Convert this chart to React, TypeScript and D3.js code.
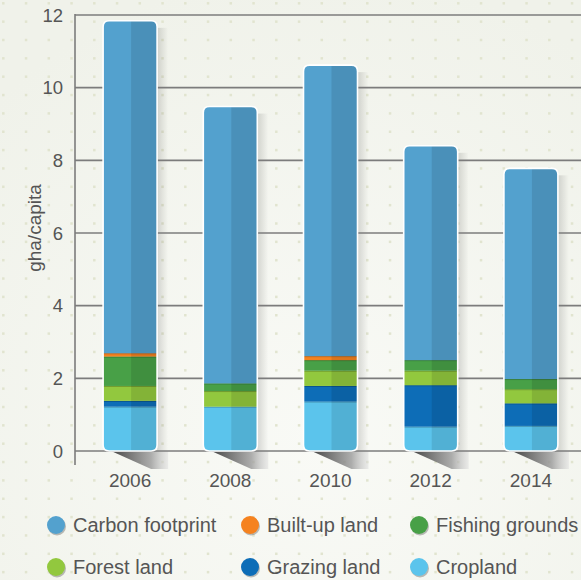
import React from 'react';
import * as d3 from 'd3';

const YEARS = ['2006', '2008', '2010', '2012', '2014'];
const CROPLAND = [1.22, 1.22, 1.36, 0.67, 0.69];
const GRAZING = [0.16, 0, 0.43, 1.14, 0.62];
const FOREST = [0.41, 0.43, 0.42, 0.4, 0.39];
const FISHING = [0.81, 0.21, 0.29, 0.29, 0.28];
const BUILT_UP = [0.09, 0, 0.11, 0, 0];
const CARBON = [9.15, 7.62, 8.01, 5.9, 5.8];
const Y_TICKS = [0, 2, 4, 6, 8, 10, 12];

const KEYS = ['cropland', 'grazing', 'forest', 'fishing', 'builtUp', 'carbon'];
const COLORS: Record<string, string> = {
  carbon: '#53a1ce',
  builtUp: '#f5821f',
  fishing: '#48a047',
  forest: '#92c83e',
  grazing: '#0d6db7',
  cropland: '#5bc4ec',
};
const LEGEND = [
  { key: 'carbon', label: 'Carbon footprint' },
  { key: 'builtUp', label: 'Built-up land' },
  { key: 'fishing', label: 'Fishing grounds' },
  { key: 'forest', label: 'Forest land' },
  { key: 'grazing', label: 'Grazing land' },
  { key: 'cropland', label: 'Cropland' },
];

const W = 581;
const H = 580;
const FONT = '"Liberation Sans", Arial, sans-serif';
const TEXT = '#555';

// rounded bar outline
function barPath(x0: number, x1: number, y0: number, y1: number, r: number) {
  return `M${x0},${y1 - r}V${y0 + r}Q${x0},${y0} ${x0 + r},${y0}H${x1 - r}Q${x1},${y0} ${x1},${y0 + r}V${y1 - r}Q${x1},${y1} ${x1 - r},${y1}H${x0 + r}Q${x0},${y1} ${x0},${y1 - r}Z`;
}

export default function App() {
  const rows = YEARS.map((year, i) => ({
    year,
    cropland: CROPLAND[i],
    grazing: GRAZING[i],
    forest: FOREST[i],
    fishing: FISHING[i],
    builtUp: BUILT_UP[i],
    carbon: CARBON[i],
  }));
  const series = d3.stack<any>().keys(KEYS)(rows);

  const y = d3.scaleLinear().domain([0, 12]).range([451, 15]);
  const x = d3.scalePoint<string>().domain(YEARS).range([80, 581]).padding(0.5);
  const barW = 54;
  const axisX = 75;

  const dots: [number, number][] = [];
  for (let dx = 3.3; dx < W; dx += 22.75) {
    for (let dy = 3.3; dy < H; dy += 18.35) dots.push([dx, dy]);
  }

  return (
    <svg width={W} height={H} style={{ position: 'absolute', left: 0, top: 0 }} fontFamily={FONT}>
      <defs>
        <radialGradient id="bg" cx="55%" cy="75%" r="80%">
          <stop offset="0%" stopColor="#f9faf6" />
          <stop offset="100%" stopColor="#f0f2ea" />
        </radialGradient>
        <linearGradient id="sideShadow" x1="0" x2="1" y1="0" y2="0">
          <stop offset="0%" stopColor="#000" stopOpacity={0.14} />
          <stop offset="100%" stopColor="#000" stopOpacity={0} />
        </linearGradient>
        <linearGradient id="baseShadow" x1="0" x2="1" y1="0" y2="0">
          <stop offset="0%" stopColor="#3a3a3a" stopOpacity={0.95} />
          <stop offset="70%" stopColor="#999" stopOpacity={0.8} />
          <stop offset="100%" stopColor="#ddd" stopOpacity={0.5} />
        </linearGradient>
        {YEARS.map((yr, i) => {
          const cx = x(yr)!;
          const top = y(d3.sum(series, s => s[i][1] - s[i][0]));
          return (
            <clipPath id={`clip-${i}`} key={yr}>
              <path d={barPath(cx - barW / 2, cx + barW / 2, top, y(0), 6)} />
            </clipPath>
          );
        })}
      </defs>

      <rect width={W} height={H} fill="url(#bg)" />
      {dots.map(([dx, dy], i) => (
        <rect key={i} x={dx - 1.25} y={dy - 1.25} width={2.5} height={2.5} fill="#e1e4cf" />
      ))}

      {/* shadows */}
      {YEARS.map((yr, i) => {
        const cx = x(yr)!;
        const l = cx - barW / 2;
        const r = cx + barW / 2;
        const top = y(series[series.length - 1][i][1]);
        return (
          <g key={yr}>
            <rect x={r} y={top + 7} width={11} height={y(0) - top - 7} fill="url(#sideShadow)" />
            <polygon
              points={`${l + 8},${y(0)} ${r + 11},${y(0)} ${r + 11},${y(0) + 18} ${r - 6},${y(0) + 18}`}
              fill="url(#baseShadow)"
            />
          </g>
        );
      })}

      {/* grid */}
      {Y_TICKS.map(t => (
        <g key={t}>
          <line x1={axisX} x2={W} y1={y(t)} y2={y(t)} stroke="#7c7c7c" strokeWidth={1.6} />
          <text x={63} y={y(t)} dy="0.36em" textAnchor="end" fontSize={18.5} fill={TEXT}>
            {t}
          </text>
        </g>
      ))}
      <line x1={axisX} x2={axisX} y1={14} y2={465} stroke="#7c7c7c" strokeWidth={1.6} />
      <text
        transform={`translate(41,228) rotate(-90)`}
        textAnchor="middle"
        fontSize={19}
        fill={TEXT}
      >
        gha/capita
      </text>

      {/* bars */}
      {YEARS.map((yr, i) => {
        const cx = x(yr)!;
        const l = cx - barW / 2;
        const r = cx + barW / 2;
        const top = y(series[series.length - 1][i][1]);
        return (
          <g key={yr}>
            <g clipPath={`url(#clip-${i})`}>
              {series.map(s => {
                const d = s[i];
                if (d[1] - d[0] <= 0) return null;
                const c = COLORS[s.key];
                return (
                  <g key={s.key}>
                    <rect x={l} y={y(d[1])} width={barW} height={y(d[0]) - y(d[1])} fill={c} />
                    {s.key !== 'carbon' && (
                      <line
                        x1={l}
                        x2={r}
                        y1={y(d[1]) + 0.5}
                        y2={y(d[1]) + 0.5}
                        stroke={d3.color(c)!.darker(0.7).toString()}
                        strokeWidth={1}
                      />
                    )}
                  </g>
                );
              })}
              <rect x={cx + 1} y={top} width={barW / 2} height={y(0) - top} fill="#000" opacity={0.1} />
            </g>
            <path d={barPath(l, r, top, y(0), 6)} fill="none" stroke="#fff" strokeWidth={1.6} />
            <text x={cx} y={487} textAnchor="middle" fontSize={19} fill={TEXT}>
              {yr}
            </text>
          </g>
        );
      })}

      {/* legend */}
      {LEGEND.map((item, i) => {
        const col = i % 3;
        const row = Math.floor(i / 3);
        const lx = [56, 250, 419][col];
        const ly = [525, 567][row];
        return (
          <g key={item.key}>
            <circle cx={lx + 1} cy={ly + 1.5} r={9} fill="#000" opacity={0.25} />
            <circle cx={lx} cy={ly} r={9} fill={COLORS[item.key]} />
            <text x={lx + 17} y={ly} dy="0.36em" fontSize={20} fill={TEXT}>
              {item.label}
            </text>
          </g>
        );
      })}
    </svg>
  );
}
